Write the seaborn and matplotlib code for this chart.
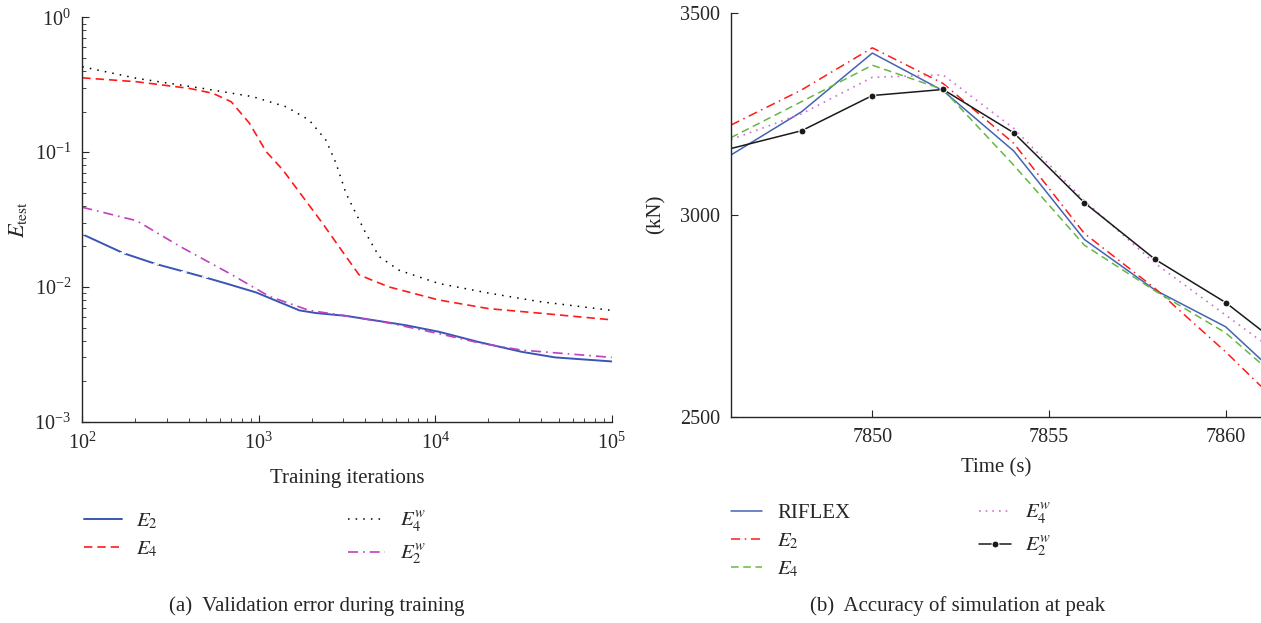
import matplotlib
matplotlib.use("Agg")
import matplotlib.pyplot as plt
import seaborn as sns

# ---- data ----
# (a) validation error during training
it_e2 = [100, 171, 261, 376, 493, 654, 966, 1698, 2110, 3117, 6800, 10480, 17660, 30900, 47800, 100000]
val_e2 = [0.0246, 0.0178, 0.0148, 0.0130, 0.0118, 0.0106, 0.0091, 0.0067, 0.0064, 0.0061,
          0.0052, 0.00465, 0.0039, 0.0033, 0.0030, 0.0028]

it_e4 = [100, 203, 406, 550, 698, 885, 1100, 1370, 1775, 2300, 3120, 3700, 4400, 5470,
         10480, 20100, 38500, 100000]
val_e4 = [0.356, 0.333, 0.297, 0.273, 0.2365, 0.164, 0.101, 0.0737, 0.0467, 0.0296, 0.0168,
          0.0123, 0.0112, 0.0100, 0.0080, 0.0069, 0.0064, 0.0057]

it_e4w = [100, 203, 483, 925, 1430, 1930, 2400, 2740, 3120, 3400, 4040, 4810, 6240,
          10480, 20100, 38500, 100000]
val_e4w = [0.430, 0.353, 0.297, 0.258, 0.217, 0.173, 0.123, 0.0826, 0.0495, 0.0394, 0.025,
           0.0168, 0.0133, 0.0106, 0.0090, 0.0078, 0.0067]

it_e2w = [100, 203, 357, 682, 1150, 1930, 3117, 5470, 10480, 18450, 30900, 100000]
val_e2w = [0.039, 0.031, 0.0200, 0.0126, 0.0085, 0.0067, 0.0061, 0.0054, 0.0045, 0.0038,
           0.0034, 0.0030]

# (b) accuracy of simulation at peak
time_s = [7846, 7848, 7850, 7852, 7854, 7856, 7858, 7860, 7861]
riflex = [3148, 3255, 3400, 3307, 3158, 2939, 2814, 2723, 2642]
sim_e2 = [3222, 3309, 3413, 3325, 3177, 2954, 2818, 2661, 2576]
sim_e4 = [3191, 3280, 3370, 3310, 3123, 2925, 2812, 2708, 2632]
sim_e4w = [3186, 3250, 3340, 3346, 3214, 3035, 2880, 2752, 2688]
sim_e2w = [3164, 3208, 3295, 3310, 3203, 3030, 2890, 2783, 2715]

sns.set_style("ticks")
plt.rcParams["font.family"] = ["Liberation Serif", "DejaVu Serif"]
plt.rcParams["mathtext.fontset"] = "stix"
plt.rcParams["xtick.direction"] = "in"
plt.rcParams["ytick.direction"] = "in"
plt.rcParams["axes.linewidth"] = 1.0

fs = 15
tfs = 14.5

fig = plt.figure(figsize=(12.61, 6.23), dpi=100)
ax1 = fig.add_axes([0.0653, 0.3231, 0.4198, 0.649])
ax2 = fig.add_axes([0.5797, 0.3307, 0.4203, 0.649])

# ---- left panel ----
sns.lineplot(x=it_e2, y=val_e2, ax=ax1, color="#3a55b4", lw=1.4, label=r"$E_2$")
# small cross marks on the first part of the E2 curve
sns.lineplot(x=it_e2[:5], y=val_e2[:5], ax=ax1, color="#3a55b4", linestyle="none",
             marker="+", ms=4, mew=1.2, legend=False)
sns.lineplot(x=it_e4, y=val_e4, ax=ax1, color="#ff1a1a", lw=1.2, linestyle=(0, (5, 3)),
             label=r"$E_4$")
sns.lineplot(x=it_e4w, y=val_e4w, ax=ax1, color="black", lw=1.1, linestyle=(0, (1, 4)),
             label=r"$E_4^w$")
sns.lineplot(x=it_e2w, y=val_e2w, ax=ax1, color="#c040c0", lw=1.2,
             linestyle=(0, (6, 3, 1, 3)), label=r"$E_2^w$")
ax1.set_xscale("log")
ax1.set_yscale("log")
ax1.set_xlim(100, 1e5)
ax1.set_ylim(1e-3, 1)
ax1.set_xlabel("Training iterations", fontsize=fs, labelpad=11)
ax1.set_ylabel(r"$E_{\rm test}$", fontsize=fs + 1, labelpad=4)
ax1.tick_params(labelsize=tfs, which="major", length=5, pad=8)
ax1.tick_params(which="minor", length=3)
sns.despine(ax=ax1)
ax1.legend(ncol=2, loc="upper left", bbox_to_anchor=(0.052, 0.212),
           bbox_transform=fig.transFigure, frameon=False, fontsize=fs,
           handlelength=1.8, handletextpad=0.7, columnspacing=9.1, labelspacing=0.4)

# ---- right panel ----
sns.lineplot(x=time_s, y=riflex, ax=ax2, color="#4463b3", lw=1.1, label="RIFLEX")
sns.lineplot(x=time_s, y=sim_e2, ax=ax2, color="#ff1a1a", lw=1.1,
             linestyle=(0, (6, 3, 1, 3)), label=r"$E_2$")
sns.lineplot(x=time_s, y=sim_e4, ax=ax2, color="#66b843", lw=1.1,
             linestyle=(0, (5, 3)), label=r"$E_4$")
sns.lineplot(x=time_s, y=sim_e4w, ax=ax2, color="#d070d0", lw=1.2,
             linestyle=(0, (1, 3)), label=r"$E_4^w$")
sns.lineplot(x=time_s, y=sim_e2w, ax=ax2, color="#1a1a1a", lw=1.1, marker="o", ms=5,
             markevery=[1, 2, 3, 4, 5, 6, 7], label=r"$E_2^w$")
ax2.set_xlim(7846, 7861)
ax2.set_ylim(2500, 3500)
ax2.set_xticks([7850, 7855, 7860])
ax2.set_yticks([2500, 3000, 3500])
ax2.set_xlabel("Time (s)", fontsize=fs, labelpad=8)
ax2.set_ylabel("(kN)", fontsize=fs, labelpad=10)
ax2.tick_params(labelsize=tfs, length=5, pad=8)
sns.despine(ax=ax2)
ax2.legend(ncol=2, loc="upper left", bbox_to_anchor=(0.565, 0.225),
           bbox_transform=fig.transFigure, frameon=False, fontsize=fs,
           handlelength=1.5, handletextpad=0.7, columnspacing=6.2, labelspacing=0.4)

fig.text(0.251, 0.019, "(a)  Validation error during training", ha="center", fontsize=fs)
fig.text(0.759, 0.019, "(b)  Accuracy of simulation at peak", ha="center", fontsize=fs)

fig.savefig("out.png", dpi=100)
